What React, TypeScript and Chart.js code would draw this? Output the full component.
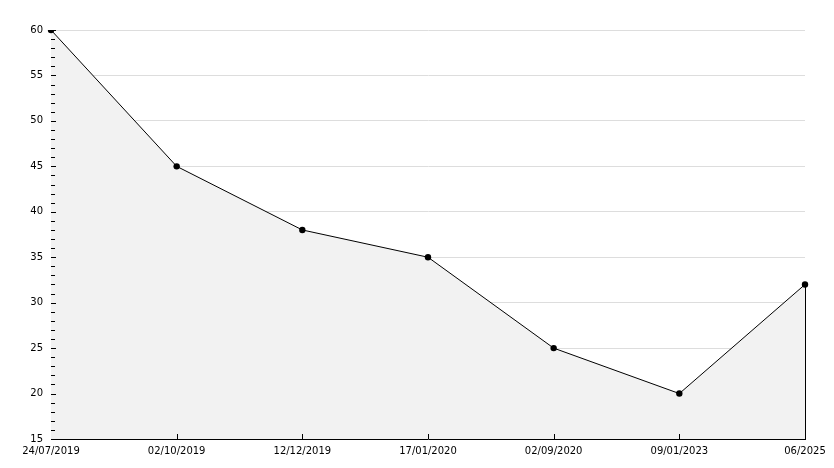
import React, { useEffect, useRef } from "react";
import { Chart, registerables } from "chart.js";

Chart.register(...registerables);

const categories = ["24/07/2019", "02/10/2019", "12/12/2019", "17/01/2020", "02/09/2020", "09/01/2023", "06/2025"];
const values = [60, 45, 38, 35, 25, 20, 32];
const yMin = 15;
const yMax = 60;
const yMajorStep = 5;
const yMinorStep = 1;

const innerTicks = {
  id: "innerTicks",
  afterDatasetsDraw(chart: any) {
    const { ctx, chartArea, scales } = chart;
    const x = scales.x;
    const y = scales.y;
    ctx.save();
    ctx.strokeStyle = "#000";
    ctx.lineWidth = 1;
    ctx.beginPath();
    for (let v = yMin; v <= yMax; v += yMinorStep) {
      const py = Math.round(y.getPixelForValue(v)) + 0.5;
      const len = v % yMajorStep === 0 ? 5 : 4;
      ctx.moveTo(chartArea.left, py);
      ctx.lineTo(chartArea.left + len, py);
    }
    for (let i = 1; i < categories.length - 1; i++) {
      const px = Math.round(x.getPixelForValue(i)) + 0.5;
      ctx.moveTo(px, chartArea.bottom);
      ctx.lineTo(px, chartArea.bottom - 5);
    }
    // right edge of the filled area
    const meta = chart.getDatasetMeta(0);
    const last = meta.data[meta.data.length - 1];
    const lx = Math.round(last.x) + 0.5;
    ctx.moveTo(lx, last.y);
    ctx.lineTo(lx, chartArea.bottom);
    ctx.stroke();
    ctx.restore();
  },
};

export default function App() {
  const ref = useRef<HTMLCanvasElement>(null);
  useEffect(() => {
    const chart = new Chart(ref.current as HTMLCanvasElement, {
      type: "line",
      data: {
        labels: categories,
        datasets: [
          {
            data: values,
            borderColor: "#000",
            borderWidth: 1,
            backgroundColor: "#f2f2f2",
            fill: "start",
            tension: 0,
            pointRadius: 3.2,
            pointBackgroundColor: "#000",
            pointBorderColor: "#000",
            pointBorderWidth: 0,
          },
        ],
      },
      options: {
        animation: false,
        responsive: false,
        maintainAspectRatio: false,
        layout: { padding: { left: 0, top: 30, right: 29, bottom: 0 } },
        plugins: { legend: { display: false }, tooltip: { enabled: false } },
        scales: {
          x: {
            offset: false,
            grid: { display: true, color: "transparent", drawTicks: false },
            border: { display: true, color: "#000", width: 1 },
            ticks: {
              color: "#000",
              font: { family: "DejaVu Sans", size: 10 },
              padding: 6,
              maxRotation: 0,
              autoSkip: false,
            },
            afterFit: (s: any) => {
              s.height = 29;
            },
          },
          y: {
            min: yMin,
            max: yMax,
            grid: {
              color: (c: any) => (c.tick && c.tick.value === yMin ? "transparent" : "#dddddd"),
              drawTicks: false,
            },
            border: { display: true, color: "#000", width: 1 },
            ticks: {
              stepSize: yMajorStep,
              color: "#000",
              font: { family: "DejaVu Sans", size: 10 },
              padding: 8,
            },
            afterFit: (s: any) => {
              s.width = 51;
            },
          },
        },
      },
      plugins: [innerTicks],
    });
    return () => chart.destroy();
  }, []);
  return (
    <div style={{ position: "fixed", left: 0, top: 0, width: 834, height: 468, background: "#fff" }}>
      <canvas ref={ref} width={834} height={468} />
    </div>
  );
}
